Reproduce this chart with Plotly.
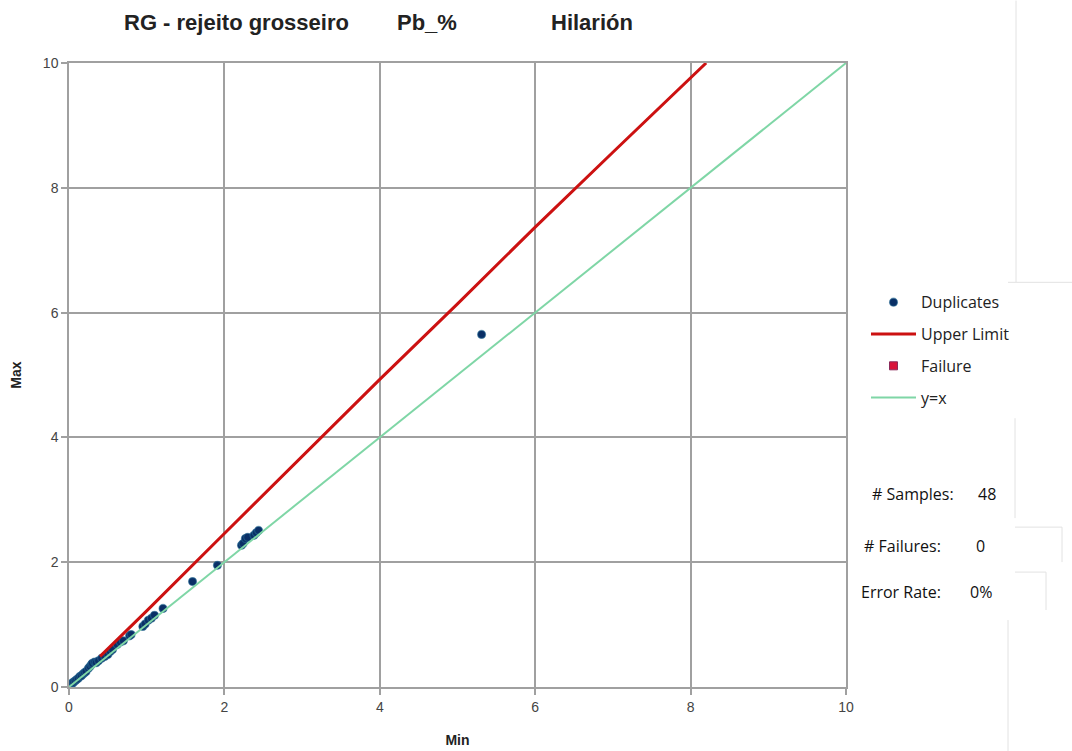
import plotly.graph_objects as go

# Duplicate pairs: lower and higher assay of each pair (Pb %)
min_vals = [0.00, 0.01, 0.02, 0.03, 0.04, 0.05, 0.06, 0.08, 0.10, 0.12,
            0.14, 0.16, 0.18, 0.20, 0.22, 0.25, 0.27, 0.29, 0.30, 0.33,
            0.35, 0.38, 0.42, 0.46, 0.50, 0.53, 0.56, 0.62, 0.66, 0.70,
            0.78, 0.80, 0.95, 0.98, 1.02, 1.06, 1.10, 1.21, 1.59, 1.91,
            2.22, 2.24, 2.27, 2.30, 2.38, 2.41, 2.44, 5.31]
max_vals = [0.02, 0.03, 0.04, 0.05, 0.06, 0.07, 0.08, 0.10, 0.12, 0.14,
            0.17, 0.18, 0.21, 0.23, 0.25, 0.30, 0.33, 0.36, 0.38, 0.40,
            0.39, 0.42, 0.46, 0.49, 0.52, 0.57, 0.60, 0.68, 0.72, 0.74,
            0.82, 0.84, 0.97, 1.01, 1.07, 1.10, 1.15, 1.26, 1.69, 1.95,
            2.27, 2.30, 2.38, 2.40, 2.43, 2.47, 2.51, 5.65]

# Acceptance limit curve
limit_min = [0.40, 1.00, 2.00, 3.00, 4.00, 5.00, 6.00, 7.00, 8.00, 8.20]
limit_max = [0.49, 1.22, 2.46, 3.69, 4.93, 6.14, 7.37, 8.57, 9.76, 10.00]

# Reference identity line
identity = [0, 10]

# Failing pairs (none)
fail_min = [None]
fail_max = [None]

n_samples = len(min_vals)
n_fail = 0

L, R, T, B = 69, 846, 62.5, 687.0
def px(x):
    return (x - L) / (R - L)
def py(y):
    return (B - y) / (B - T)

fig = go.Figure()
fig.add_trace(go.Scatter(
    x=min_vals, y=max_vals, mode="markers", name="Duplicates",
    legendgroup="a",
    marker=dict(color="#0a2f66", size=8,
                line=dict(color="rgba(40,110,150,0.55)", width=1.2))))
fig.add_trace(go.Scatter(
    x=limit_min, y=limit_max, mode="lines", name="Upper Limit",
    legendgroup="b", line=dict(color="#cc1111", width=3)))
fig.add_trace(go.Scatter(
    x=fail_min, y=fail_max, mode="markers", name="Failure",
    legendgroup="c",
    marker=dict(color="#d9133a", symbol="square", size=8,
                line=dict(color="#8a2a5a", width=1))))
fig.add_trace(go.Scatter(
    x=identity, y=identity, mode="lines", name="y=x",
    legendgroup="d", line=dict(color="#7fd6a6", width=2)))

axis_common = dict(
    range=[0, 10], dtick=2, showgrid=True, gridcolor="#a0a0a0", gridwidth=1.5,
    showline=True, linecolor="#a0a0a0", linewidth=1.5, mirror=True,
    ticks="outside", ticklen=6, tickcolor="#a0a0a0", tickwidth=1.5,
    zeroline=False, automargin=False,
    tickfont=dict(family="Liberation Sans", size=14, color="#444"),
)

fig.update_layout(
    width=1072, height=751,
    margin=dict(l=L, r=1072 - R, t=T, b=751 - B, autoexpand=False),
    paper_bgcolor="white", plot_bgcolor="white",
    showlegend=True,
    legend=dict(
        x=px(866), y=py(285), xanchor="left", yanchor="top",
        traceorder="grouped", tracegroupgap=8, itemwidth=45,
        font=dict(family="Open Sans", size=16, color="#222"),
        bgcolor="rgba(0,0,0,0)",
    ),
    xaxis=dict(**axis_common,
               title=dict(text="<b>Min</b>", standoff=22,
                          font=dict(family="Liberation Sans", size=14, color="#222"))),
    yaxis=dict(**axis_common,
               title=dict(text="<b>Max</b>", standoff=18,
                          font=dict(family="Liberation Sans", size=14, color="#222"))),
)

title_font = dict(family="Liberation Sans", size=22, color="#222")
for text, cx in [("<b>RG - rejeito grosseiro</b>", 236),
                 ("<b>Pb_%</b>", 427),
                 ("<b>Hilarión</b>", 592)]:
    fig.add_annotation(text=text, x=px(cx), y=py(22), xref="paper", yref="paper",
                       xanchor="center", yanchor="middle", showarrow=False,
                       font=title_font)

stat_font = dict(family="Open Sans", size=16, color="#111")
stats = [("# Samples:", 870, str(n_samples), 976, 494),
         ("# Failures:", 862, str(n_fail), 974, 546),
         ("Error Rate:", 859, f"{round(100 * n_fail / n_samples)}%", 968, 592)]
for label, lx, value, vx, yy in stats:
    fig.add_annotation(text=label, x=px(lx), y=py(yy), xref="paper", yref="paper",
                       xanchor="left", yanchor="middle", showarrow=False, font=stat_font)
    fig.add_annotation(text=value, x=px(vx), y=py(yy), xref="paper", yref="paper",
                       xanchor="left", yanchor="middle", showarrow=False, font=stat_font)

# Faint frames of the side text boxes
frame = dict(color="#e2e2e2", width=1)
for x0, y0, x1, y1 in [(1016, 0, 1016, 282), (1008, 282, 1072, 282),
                       (1015, 418, 1015, 518), (1015, 527, 1062, 527),
                       (1062, 527, 1062, 562), (1015, 572, 1046, 572),
                       (1046, 572, 1046, 610), (1008, 620, 1008, 751)]:
    fig.add_shape(type="line", xref="paper", yref="paper",
                  x0=px(x0), y0=py(y0), x1=px(x1), y1=py(y1), line=frame)

fig.write_html("out.html")
